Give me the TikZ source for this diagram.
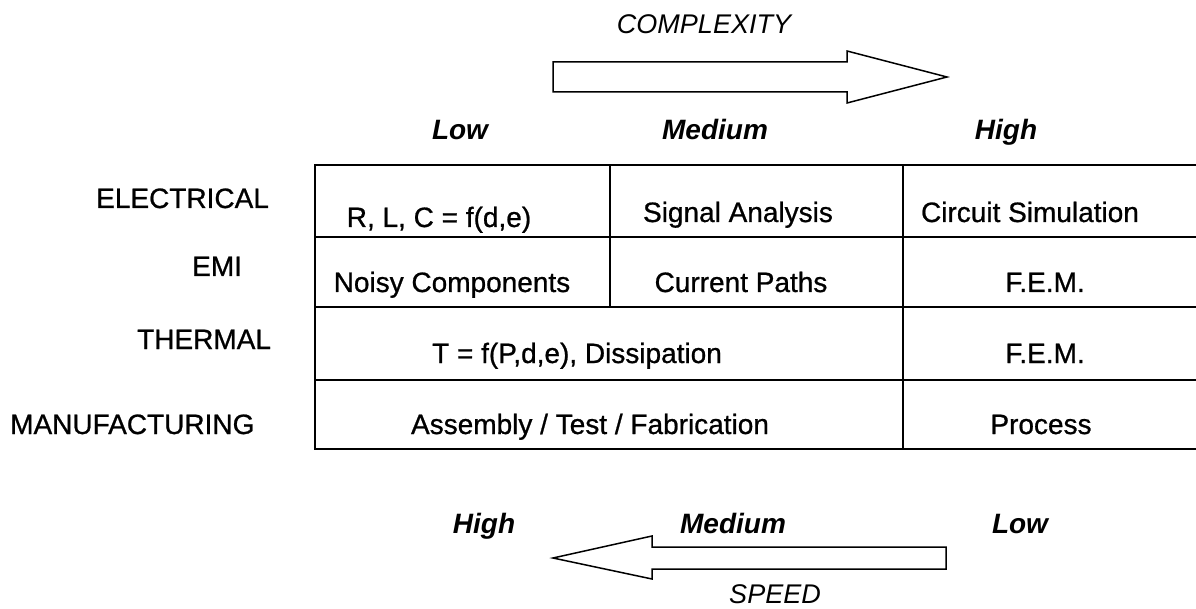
\documentclass[tikz,border=0pt]{standalone}
\usepackage{fontspec}
\setmainfont{Liberation Sans}
\newfontfamily\heavyfont{Liberation Sans}[FakeBold=0.8]
\begin{document}
\begin{tikzpicture}[x=1pt,y=-1pt,
  txt/.style={inner sep=0pt,anchor=base,font=\fontsize{28}{32}\heavyfont},
  lbl/.style={inner sep=0pt,anchor=base west,font=\fontsize{28}{32}\heavyfont},
  lvl/.style={inner sep=0pt,anchor=base,font=\fontsize{28}{32}\selectfont\bfseries\itshape},
  axis/.style={inner sep=0pt,anchor=base,font=\fontsize{27}{32}\selectfont\itshape},
  grid/.style={line width=2pt,line cap=rect},
  bigarrow/.style={line width=1.5pt,line join=miter,fill=white}]
\useasboundingbox (0,0) rectangle (1196,609);
% complexity arrow
\draw[bigarrow] (553,62) -- (847,62) -- (847,51) -- (947,77) -- (847,103) -- (847,92) -- (553,92) -- cycle;
\node[axis] (cplx) at (704,34) {COMPLEXITY};
% speed arrow
\draw[bigarrow] (946,547) -- (652,547) -- (652,536) -- (553,558) -- (652,579) -- (652,569) -- (946,569) -- cycle;
\node[axis] (speed) at (775,603) {SPEED};
% level labels
\node[lvl] (tlow) at (460,140) {Low};
\node[lvl] (tmed) at (715,140) {Medium};
\node[lvl] (thigh) at (1006,140) {High};
\node[lvl] (bhigh) at (484,533) {High};
\node[lvl] (bmed) at (733,533) {Medium};
\node[lvl] (blow) at (1020,533) {Low};
% table grid
\draw[grid] (1196,165) -- (315,165) -- (315,449) -- (1196,449);
\draw[grid] (315,237) -- (1196,237);
\draw[grid] (315,307) -- (1196,307);
\draw[grid] (315,380) -- (1196,380);
\draw[grid] (610,165) -- (610,307);
\draw[grid] (903,165) -- (903,449);
% row labels
\node[lbl] (elec) at (96,208) {ELECTRICAL};
\node[lbl] (emi) at (192,276) {EMI};
\node[lbl] (therm) at (137,349) {THERMAL};
\node[lbl] (manu) at (10,434) {MANUFACTURING};
% cells
\node[txt] (c11) at (439,227) {R, L, C = f(d,e)};
\node[txt] (c12) at (738,222) {Signal Analysis};
\node[txt] (c13) at (1030,222) {Circuit Simulation};
\node[txt] (c21) at (452,292) {Noisy Components};
\node[txt] (c22) at (741,292) {Current Paths};
\node[txt] (c23) at (1045,292) {F.E.M.};
\node[txt] (c31) at (577,363) {T = f(P,d,e), Dissipation};
\node[txt] (c33) at (1045,363) {F.E.M.};
\node[txt] (c41) at (590,434) {Assembly / Test / Fabrication};
\node[txt] (c43) at (1041,434) {Process};
\end{tikzpicture}
\end{document}
